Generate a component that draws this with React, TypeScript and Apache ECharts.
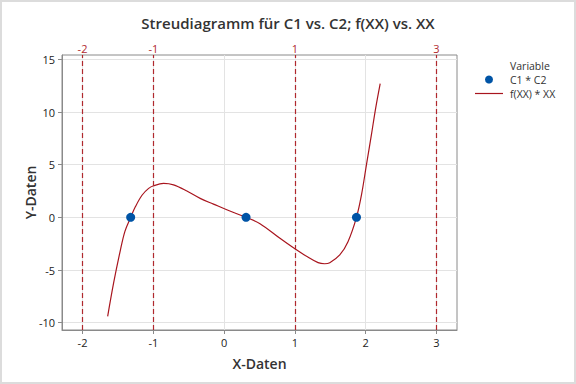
import React, { useEffect, useRef } from "react";
import * as echarts from "echarts";

const titleText = "Streudiagramm für C1 vs. C2; f(XX) vs. XX";
const xTicks = [-2, -1, 0, 1, 2, 3];
const yTicks = [-10, -5, 0, 5, 10, 15];
const refLines = [-2, -1, 1, 3];
const legendTitle = "Variable";
const scatterName = "C1 * C2";
const curveName = "f(XX) * XX";

// C1 * C2 points
const c2X = [-1.32, 0.31, 1.87];
const c1Y = [0, 0, 0];

// f(XX) * XX curve
const xxValues = [
  -1.645, -1.56, -1.465, -1.4, -1.32, -1.254, -1.16, -1.066, -0.995, -0.855,
  -0.714, -0.526, -0.338, -0.15, 0.038, 0.31, 0.507, 0.789, 0.99, 1.165,
  1.328, 1.42, 1.493, 1.634, 1.75, 1.87, 1.94, 2.01, 2.08, 2.14, 2.205,
];
const fxxValues = [
  -9.4, -6.2, -3.1, -1.3, 0, 1.0, 2.1, 2.75, 3.0, 3.22,
  3.08, 2.5, 1.8, 1.26, 0.72, 0, -0.6, -1.99, -2.94, -3.7,
  -4.3, -4.4, -4.3, -3.57, -2.31, 0, 2.11, 4.96, 7.8, 10.33, 12.7,
];

const X_MIN = -2.29;
const X_MAX = 3.29;
const Y_MIN = -10.69;
const Y_MAX = 15.41;

const RED = "#B0282E";
const CURVE = "#A8151E";
const BLUE = "#0054A6";
const FONT = "'Open Sans', 'Noto Sans', sans-serif";
const TXT = "#333333";

export default function App() {
  const ref = useRef<HTMLDivElement>(null);
  useEffect(() => {
    document.body.style.margin = "0";
    const chart = echarts.init(ref.current!, null, { renderer: "svg" });
    const legendText = (text: string, y: number) => ({
      type: "text",
      x: 510,
      y,
      style: {
        text,
        fontSize: 10.5,
        lineHeight: 12,
        fill: TXT,
        fontFamily: FONT,
        verticalAlign: "middle",
      },
    });
    chart.setOption({
      animation: false,
      backgroundColor: "#ffffff",
      textStyle: { fontFamily: FONT },
      title: {
        text: titleText,
        left: "center",
        top: 10,
        textStyle: { fontSize: 15, fontWeight: 600, color: TXT, fontFamily: FONT },
      },
      grid: {
        left: 62,
        right: 119,
        top: 55,
        bottom: 54,
        show: true,
        borderColor: "#8a8a8a",
        borderWidth: 1,
        backgroundColor: "transparent",
      },
      xAxis: [
        {
          type: "value",
          min: X_MIN,
          max: X_MAX,
          name: "X-Daten",
          nameLocation: "middle",
          nameGap: 26,
          nameMoveOverlap: false,
          nameTextStyle: { fontSize: 14, fontWeight: 600, color: TXT },
          axisLine: { show: true, onZero: false, lineStyle: { color: "#8a8a8a" } },
          axisTick: { show: true, length: 4, customValues: xTicks, lineStyle: { color: "#8a8a8a" } },
          axisLabel: { customValues: xTicks, fontSize: 11, color: "#222", margin: 7 },
          splitLine: { show: true, lineStyle: { color: "#e3e3e3" } },
        },
        {
          type: "value",
          position: "top",
          min: X_MIN,
          max: X_MAX,
          axisLine: { show: false },
          axisTick: { show: true, length: 2, customValues: refLines, lineStyle: { color: RED } },
          axisLabel: { customValues: refLines, fontSize: 11, color: RED, margin: 1 },
          splitLine: { show: false },
        },
      ],
      yAxis: {
        type: "value",
        min: Y_MIN,
        max: Y_MAX,
        name: "Y-Daten",
        nameLocation: "middle",
        nameGap: 25,
        nameMoveOverlap: false,
        nameTextStyle: { fontSize: 14, fontWeight: 600, color: TXT },
        axisLine: { show: true, onZero: false, lineStyle: { color: "#8a8a8a" } },
        axisTick: { show: true, length: 4, customValues: yTicks, lineStyle: { color: "#8a8a8a" } },
        axisLabel: { customValues: yTicks, fontSize: 11, color: "#222", margin: 7 },
        splitLine: { show: true, lineStyle: { color: "#e3e3e3" } },
      },
      graphic: [
        {
          type: "rect",
          shape: { x: 1, y: 1, width: 574, height: 382 },
          style: { fill: "none", stroke: "#dcdcdc", lineWidth: 2 },
          silent: true,
        },
        legendText(legendTitle, 66),
        {
          type: "circle",
          shape: { cx: 489, cy: 79.5, r: 4 },
          style: { fill: BLUE },
        },
        legendText(scatterName, 80),
        {
          type: "line",
          shape: { x1: 475, y1: 93.5, x2: 503, y2: 93.5 },
          style: { stroke: CURVE, lineWidth: 1.2 },
        },
        legendText(curveName, 94),
      ],
      series: [
        {
          name: curveName,
          type: "line",
          data: xxValues.map((x, i) => [x, fxxValues[i]]),
          smooth: 0.35,
          symbol: "none",
          lineStyle: { color: CURVE, width: 1.2 },
          itemStyle: { color: CURVE },
          z: 3,
          markLine: {
            silent: true,
            symbol: "none",
            label: { show: false },
            lineStyle: { color: RED, type: [5, 3], width: 1.2 },
            data: refLines.map((v) => ({ xAxis: v })),
          },
        },
        {
          name: scatterName,
          type: "scatter",
          data: c2X.map((x, i) => [x, c1Y[i]]),
          symbol: "circle",
          symbolSize: 9,
          itemStyle: { color: BLUE, opacity: 1 },
          z: 4,
        },
      ],
    });
    return () => chart.dispose();
  }, []);
  return <div ref={ref} style={{ width: 576, height: 384 }} />;
}
